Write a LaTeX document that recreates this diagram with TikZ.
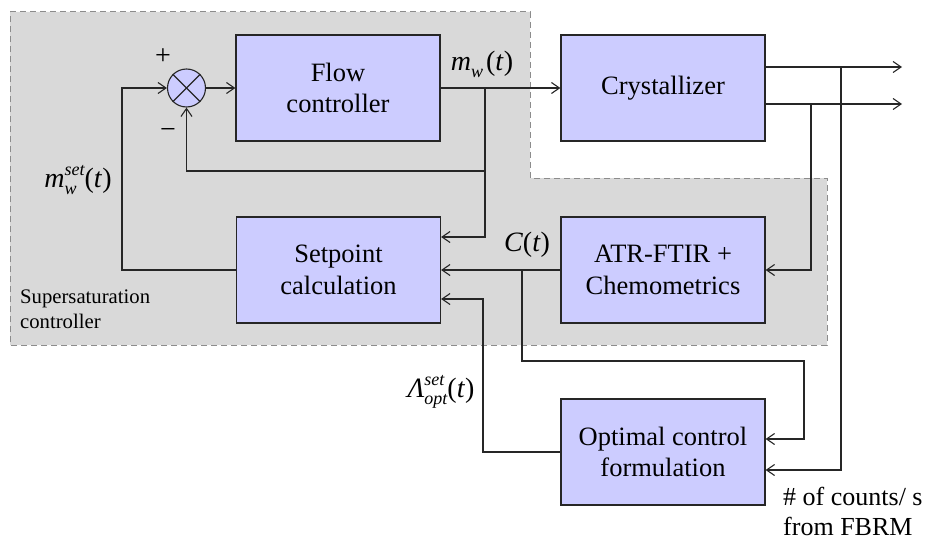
\documentclass[tikz,border=0pt]{standalone}
\usepackage{fontspec}
\setmainfont{Liberation Serif}
\usetikzlibrary{arrows.meta}
\definecolor{boxfill}{HTML}{CCCCFF}
\definecolor{zonefill}{HTML}{D9D9D9}
\definecolor{zoneline}{HTML}{8C8C8C}
\definecolor{ink}{HTML}{262626}
% italic index font for super- and subscripts
\newcommand\idxf{\fontsize{18}{18}\selectfont\itshape}
\newsavebox\supbox
\newsavebox\subbox
% stacked superscript (#1) over subscript (#2)
\newcommand\supsub[2]{%
  \sbox\supbox{\idxf #1}\sbox\subbox{\idxf #2}%
  \ifdim\wd\supbox>\wd\subbox
    \rlap{\raisebox{-7pt}{\usebox\subbox}}\raisebox{12pt}{\usebox\supbox}%
  \else
    \rlap{\raisebox{12pt}{\usebox\supbox}}\raisebox{-7pt}{\usebox\subbox}%
  \fi}
\begin{document}
\begin{tikzpicture}[x=1pt,y=-1pt,
  block/.style={draw=ink, line width=1.2pt, fill=boxfill,
    minimum width=204pt, minimum height=106pt, inner sep=0pt,
    align=center, font=\fontsize{26.5}{31.5}\selectfont},
  wire/.style={draw=ink, line width=1.1pt},
  arr/.style={wire, -{Straight Barb[length=8pt,width=11pt]}},
  lbl/.style={font=\fontsize{28}{32}\selectfont, inner sep=0pt}]
\useasboundingbox (0,0) rectangle (928,543);

% supersaturation controller zone
\draw[fill=zonefill, draw=zoneline, line width=1pt, dash pattern=on 6pt off 4pt]
  (10,12) -- (530,12) -- (530,178) -- (827,178) -- (827,345) -- (10,345) -- cycle;

% blocks
\node[block] (flow)  at (338,88)    {Flow\\controller};
\node[block] (cryst) at (663,88)    {Crystallizer};
\node[block] (setp)  at (338.5,270) {Setpoint\\calculation};
\node[block] (atr)   at (663,270)   {ATR-FTIR +\\Chemometrics};
\node[block] (opt)   at (663,452)   {Optimal control\\formulation};
\node[draw=ink, line width=1.1pt, fill=boxfill, circle, minimum size=38pt,
      inner sep=0pt] (sum) at (186.5,88) {};
\draw[wire] (sum.north west) -- (sum.south east);
\draw[wire] (sum.north east) -- (sum.south west);

% connection points
\coordinate (fbL)    at (122,270);
\coordinate (tapA)   at (485,88);
\coordinate (tapB)   at (485,171);
\coordinate (tapC)   at (485,237);
\coordinate (setIn1) at ([yshift=33pt]setp.east);
\coordinate (setIn3) at ([yshift=-29pt]setp.east);
\coordinate (outA)   at ([yshift=21pt]cryst.east);
\coordinate (outB)   at ([yshift=-16pt]cryst.east);
\coordinate (endA)   at (902,67);
\coordinate (endB)   at (902,104);
\coordinate (tapD)   at (811,104);
\coordinate (tapE)   at (841,67);
\coordinate (cTap)   at (522,270);
\coordinate (cRight) at (804,361);
\coordinate (optIn1) at ([yshift=13pt]opt.east);
\coordinate (optIn2) at ([yshift=-18pt]opt.east);
\coordinate (lamTap) at (483,452);

% signal lines
\draw[arr] (setp.west) -- (fbL) |- (sum.west);
\draw[arr] (sum.east) -- (flow.west);
\draw[arr] (flow.east) -- (cryst.west);
\draw[arr] (tapA) -- (tapC) -- (setIn1);
\draw[arr] (tapB) -| (sum.south);
\draw[arr] (atr.west) -- (setp.east);
\draw[arr] (cTap) |- (cRight) |- (optIn1);
\draw[arr] (outA) -- (endA);
\draw[arr] (outB) -- (endB);
\draw[arr] (tapD) |- (atr.east);
\draw[arr] (tapE) |- (optIn2);
\draw[arr] (opt.west) -- (lamTap) |- (setIn3);

% labels
\node[lbl] (plus)  at (163,57)  {+};
\node[lbl] (minus) at (168,134) {−};
\node[lbl] (lmw)   at (482,64)  {\textit{m}\raisebox{-7pt}{\idxf w}\kern3pt(\textit{t})};
\node[lbl] (lmset) at (78,180)  {\textit{m}\supsub{set}{w}(\textit{t})};
\node[lbl] (lc)    at (527,245) {\textit{C}(\textit{t})};
\node[lbl] (llam)  at (441,392) {\textit{Λ}\supsub{set}{opt}(\textit{t})};
\node[anchor=north west, align=left, inner sep=0pt,
      font=\fontsize{20.7}{25}\selectfont] (zlabel) at (20,290)
      {Supersaturation\\controller};
\node[anchor=north west, align=left, inner sep=0pt,
      font=\fontsize{26}{30}\selectfont] (fbrm) at (783,487)
      {\# of counts/ s\\from FBRM};
\end{tikzpicture}
\end{document}
